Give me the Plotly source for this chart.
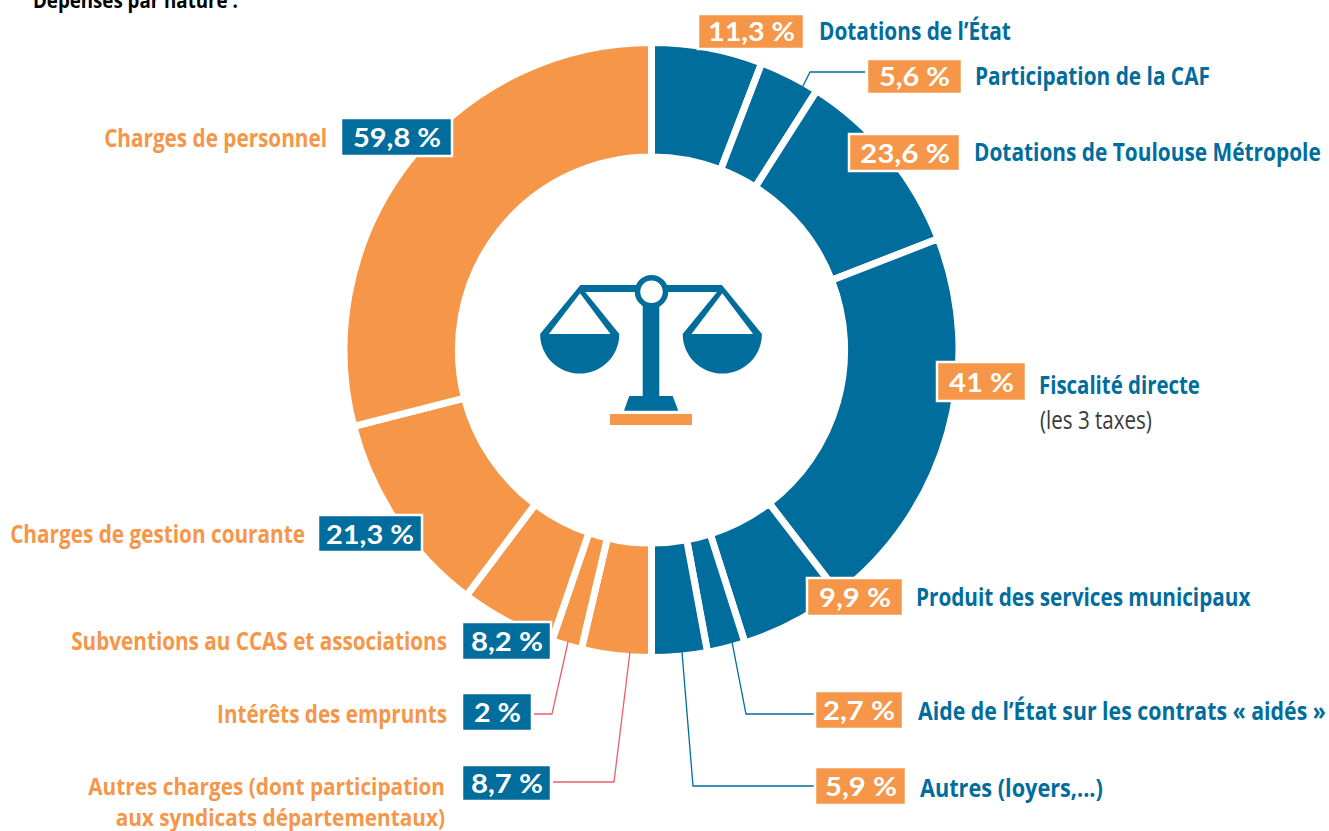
import plotly.graph_objects as go

W, H = 1329, 831
BLUE, ORANGE, RED, WHITE = "#006d9c", "#f59648", "#e8606a", "#ffffff"

# Printed percentages (text) and arc spans, in degrees
# (the drawn arcs do not follow the printed percentages exactly).
recettes = ["Dotations de l'État", "Participation de la CAF", "Dotations de Toulouse Métropole",
            "Fiscalité directe", "Produit des services municipaux",
            "Aide de l'État sur les contrats « aidés »", "Autres (loyers,...)"]
recettes_pct = ["11,3 %", "5,6 %", "23,6 %", "41 %", "9,9 %", "2,7 %", "5,9 %"]
recettes_arc = [21, 11.5, 36.3, 73.7, 19.8, 7.2, 10.5]

depenses = ["Autres charges", "Intérêts des emprunts", "Subventions au CCAS et associations",
            "Charges de gestion courante", "Charges de personnel"]
depenses_pct = ["8,7 %", "2 %", "8,2 %", "21,3 %", "59,8 %"]
depenses_arc = [13.2, 5.7, 18.1, 38.6, 104.4]

def X(v): return v / W
def Y(v): return 1 - v / H

CX, CY, R = 651.5, 350, 307.5
fig = go.Figure(go.Pie(
    labels=recettes + depenses,
    values=recettes_arc + depenses_arc,
    sort=False, direction="clockwise", rotation=0, hole=0.628,
    marker=dict(colors=[BLUE] * len(recettes) + [ORANGE] * len(depenses), line=dict(color=WHITE, width=7)),
    textinfo="none", hoverinfo="label", showlegend=False,
    domain=dict(x=[X(CX - R), X(CX + R)], y=[Y(CY + R), Y(CY - R)]),
))

shapes, notes = [], []
NARROW = "Open Sans"
NUM = "Lato"

def box(x0, y0, x1, y1, fill):
    shapes.append(dict(type="rect", xref="paper", yref="paper", x0=X(x0), x1=X(x1), y0=Y(y1), y1=Y(y0),
                       fillcolor=fill, line=dict(color=WHITE, width=2.5), layer="above"))

def note(x, y, width, text, color, size=25, family=NARROW, bold=True, anchor="left", height=28):
    notes.append(dict(xref="paper", yref="paper", x=X(x), y=Y(y), text=text, showarrow=False,
                      xanchor=anchor, yanchor="middle", align=anchor, valign="middle",
                      width=width, height=height, borderpad=0, borderwidth=0,
                      font=dict(family=family, size=size, color=color, weight=700 if bold else 400)))

def line(points, color):
    d = "M" + " L".join(f"{X(a):.5f},{Y(b):.5f}" for a, b in points)
    shapes.append(dict(type="path", xref="paper", yref="paper", path=d, line=dict(color=color, width=1.3), layer="above"))

def poly(path_pts, fill):
    d = "M" + " L".join(f"{X(a):.5f},{Y(b):.5f}" for a, b in path_pts) + " Z"
    shapes.append(dict(type="path", xref="paper", yref="paper", path=d, fillcolor=fill, line=dict(width=0), layer="above"))

def pan(ax, cx):
    r, cy, k = 39.6, 334, 0.5523 * 39.6
    d = (f"M{X(ax):.5f},{Y(285.5):.5f} L{X(cx - r):.5f},{Y(cy):.5f} "
         f"C{X(cx - r):.5f},{Y(cy + k):.5f} {X(cx - k):.5f},{Y(cy + r):.5f} {X(cx):.5f},{Y(cy + r):.5f} "
         f"C{X(cx + k):.5f},{Y(cy + r):.5f} {X(cx + r):.5f},{Y(cy + k):.5f} {X(cx + r):.5f},{Y(cy):.5f} Z")
    shapes.append(dict(type="path", xref="paper", yref="paper", path=d, fillcolor=BLUE, line=dict(width=0), layer="above"))
    poly([(ax, 293.3), (cx - 30.8, cy), (cx + 30.8, cy)], WHITE)

# Leaders
line([(800, 92), (810, 72), (865, 72)], BLUE)
line([(732, 642), (746, 714), (814, 714)], BLUE)
line([(682, 652), (693, 786), (814, 786)], BLUE)
line([(568, 642), (552, 714), (534, 714)], RED)
line([(630, 652), (614, 782), (553, 782)], RED)

# Boxes with printed percentages
right_boxes = [(698, 14, 804, 49), (867, 59, 962, 94), (849, 134, 960, 171), (937, 362, 1026, 401),
               (807, 578, 903, 616), (815, 691, 903, 729), (815, 767, 906, 805)]
right_widths = [87, 71, 90, 65, 72, 72, 72]
for pct, b, w in zip(recettes_pct, right_boxes, right_widths):
    box(*b, ORANGE)
    note((b[0] + b[2]) / 2, (b[1] + b[3]) / 2, w, pct, WHITE, 26, NUM, True, "center")

left_boxes = [(462, 765, 551, 801), (462, 693, 532, 731), (462, 622, 551, 660), (318, 515, 422, 552), (341, 118, 452, 156)]
left_widths = [72, 47, 72, 88, 88]
for pct, b, w in zip(depenses_pct, left_boxes, left_widths):
    box(*b, BLUE)
    note((b[0] + b[2]) / 2, (b[1] + b[3]) / 2, w, pct, WHITE, 26, NUM, True, "center")

# Category labels
note(819, 30, 192, "Dotations de l’État", BLUE)
note(975, 75, 235, "Participation de la CAF", BLUE)
note(974, 151, 347, "Dotations de Toulouse Métropole", BLUE)
note(1039, 384, 161, "Fiscalité directe", BLUE)
note(1040, 419, 112, "(les 3 taxes)", "#3a3a3a", 25, NARROW, False)
note(916, 596, 335, "Produit des services municipaux", BLUE)
note(918, 710, 408, "Aide de l’État sur les contrats « aidés »", BLUE)
note(920, 787, 183, "Autres (loyers,...)", BLUE)
note(327, 137, 223, "Charges de personnel", ORANGE, anchor="right")
note(305, 533, 295, "Charges de gestion courante", ORANGE, anchor="right")
note(447, 640, 376, "Subventions au CCAS et associations", ORANGE, anchor="right")
note(447, 713, 230, "Intérêts des emprunts", ORANGE, anchor="right")
note(445, 801, 357, "Autres charges (dont participation<br>aux syndicats départementaux)", ORANGE,
     size=24, anchor="right", height=60)
note(33, -1, 205, "Dépenses par nature :", "#000000", 22)

# Scale icon
poly([(580, 285), (722, 285), (722, 292), (580, 292)], BLUE)
poly([(642.7, 300), (659.3, 300), (659.3, 398), (642.7, 398)], BLUE)
poly([(629.3, 396), (672.7, 396), (678.3, 410.7), (624, 410.7)], BLUE)
poly([(610, 414), (692, 414), (692, 425), (610, 425)], ORANGE)
pan(580, 579.7)
pan(722.3, 722.3)
shapes.append(dict(type="circle", xref="paper", yref="paper", x0=X(637.5), x1=X(665.5), y0=Y(305.7), y1=Y(277.7),
                   fillcolor=WHITE, line=dict(color=BLUE, width=5.5), layer="above"))

fig.update_layout(width=W, height=H, margin=dict(l=0, r=0, t=0, b=0), paper_bgcolor=WHITE,
                  shapes=shapes, annotations=notes, showlegend=False)

# No condensed bold face is installed: each label is scaled horizontally to the width of its
# annotation box, about the point it is anchored at. It stays real text.
fit = """
document.body.style.margin='0';document.body.style.overflow='hidden';
document.querySelectorAll('.annotation').forEach(function(a){
  var t=a.querySelector('.annotation-text'), r=a.querySelector('rect');
  if(!t||!r) return;
  t.removeAttribute('clip-path'); t.style.clipPath='none';
  var sx=parseFloat(r.getAttribute('width'))/t.getBBox().width;
  var x=parseFloat(t.getAttribute('x'))||0;
  t.setAttribute('transform','translate('+x+',0) scale('+sx+',1) translate('+(-x)+',0)');
});
"""
fig.write_html("out.html", config=dict(displayModeBar=False), post_script=fit)
